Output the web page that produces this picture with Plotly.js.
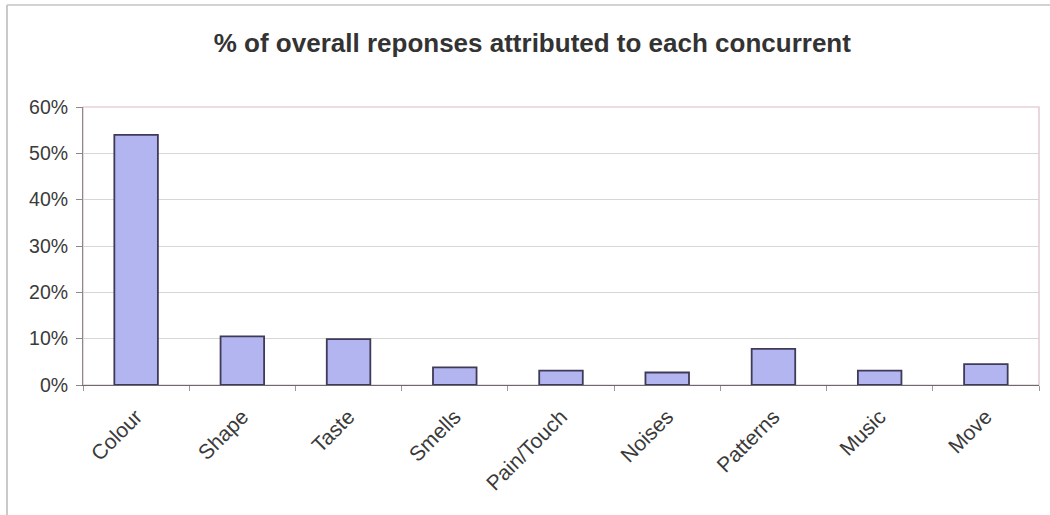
<!DOCTYPE html>
<html>
<head>
<meta charset="utf-8">
<script src="https://cdn.plot.ly/plotly-3.0.1.min.js"></script>
<style>html,body{margin:0;padding:0;background:#fff;}#chart{width:1050px;height:515px;}</style>
</head>
<body>
<div id="chart"></div>
<script>
const categories = ["Colour", "Shape", "Taste", "Smells", "Pain/Touch", "Noises", "Patterns", "Music", "Move"];
const shares = [0.540, 0.105, 0.099, 0.038, 0.031, 0.027, 0.078, 0.031, 0.045];
const yTickVals = [0, 0.1, 0.2, 0.3, 0.4, 0.5, 0.6];
const yTickText = ["0%", "10%", "20%", "30%", "40%", "50%", "60%"];
const chartTitle = "% of overall reponses attributed to each concurrent";

const trace = {
  type: "bar",
  x: categories,
  y: shares,
  marker: { color: "#b3b5f0", line: { color: "#3e3a58", width: 1.8 } },
  hoverinfo: "skip"
};

const layout = {
  width: 1050, height: 515,
  margin: { l: 83, r: 11, t: 107, b: 130 },
  paper_bgcolor: "#ffffff",
  plot_bgcolor: "#ffffff",
  showlegend: false,
  bargap: 0.59,
  font: { family: "Liberation Sans, Arial, sans-serif", color: "#333333" },
  title: {
    text: "<b>" + chartTitle + "</b>",
    font: { family: "Liberation Sans, Arial, sans-serif", size: 26, color: "#333333" },
    xref: "container", x: 0.507, xanchor: "center",
    yref: "container", y: 1 - 43 / 515, yanchor: "middle"
  },
  xaxis: {
    type: "category",
    showgrid: false,
    showline: true, linecolor: "#6a6a72", linewidth: 1.2,
    ticks: "outside", tickson: "boundaries", ticklen: 5, tickcolor: "#9a9a9a",
    tickangle: -45,
    ticklabelstandoff: 10,
    tickfont: { size: 21, color: "#3a3a3a" },
    fixedrange: true
  },
  yaxis: {
    range: [0, 0.6],
    tickvals: yTickVals, ticktext: yTickText,
    showgrid: true, gridcolor: "#d6d6d6", gridwidth: 1,
    zeroline: false,
    showline: true, linecolor: "#8a8a8a", linewidth: 1,
    ticks: "outside", ticklen: 6, tickcolor: "#8a8a8a",
    ticklabelstandoff: 4,
    tickfont: { size: 19.5, color: "#3a3a3a" },
    fixedrange: true
  },
  shapes: [
    { type: "rect", xref: "paper", yref: "paper", x0: 0, x1: 1, y0: 0, y1: 1,
      line: { color: "#dcbcc4", width: 1.2 }, layer: "below" },
    { type: "line", xref: "paper", yref: "paper", x0: -0.0795, x1: -0.0795, y0: -1, y1: 1.367,
      line: { color: "#b8b8b8", width: 1.5 } },
    { type: "line", xref: "paper", yref: "paper", x0: -0.0795, x1: 1.2, y0: 1.367, y1: 1.367,
      line: { color: "#c4c4c4", width: 1.5 } }
  ]
};

Plotly.newPlot("chart", [trace], layout, { displayModeBar: false, staticPlot: true });
</script>
</body>
</html>
